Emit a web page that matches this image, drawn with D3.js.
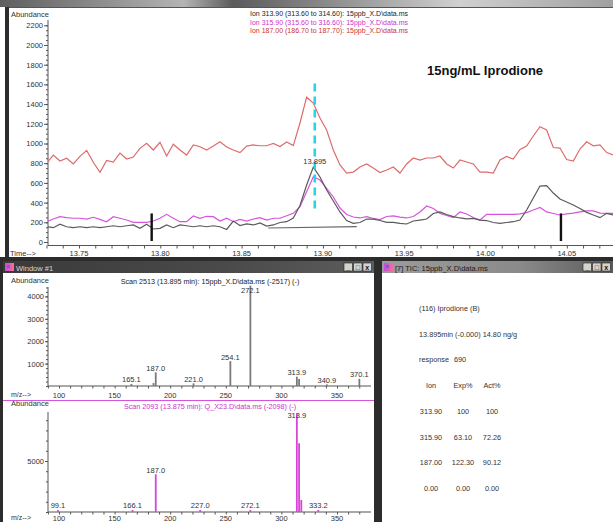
<!DOCTYPE html>
<html>
<head>
<meta charset="utf-8">
<script src="https://cdn.jsdelivr.net/npm/d3@7"></script>
<style>
  body { margin: 0; background: #fff; overflow: hidden; }
  svg { display: block; font-family: "Liberation Sans", Arial, sans-serif; }
</style>
</head>
<body>
<svg id="c" width="613" height="522"></svg>
<script>
// ---------- Extracted ion chromatogram (retention time, min) ----------
const scanTimes = [
  13.7301, 13.7342, 13.7383, 13.7424, 13.7465, 13.7506, 13.7547, 13.7588, 13.7629, 13.7670,
  13.7711, 13.7752, 13.7793, 13.7834, 13.7875, 13.7916, 13.7957, 13.7998, 13.8039, 13.8080,
  13.8121, 13.8162, 13.8203, 13.8244, 13.8285, 13.8326, 13.8367, 13.8408, 13.8449, 13.8490,
  13.8531, 13.8572, 13.8613, 13.8654, 13.8695, 13.8736, 13.8777, 13.8818, 13.8859, 13.8900,
  13.8941, 13.8982, 13.9023, 13.9064, 13.9105, 13.9146, 13.9187, 13.9228, 13.9269, 13.9310,
  13.9351, 13.9392, 13.9433, 13.9474, 13.9515, 13.9556, 13.9597, 13.9638, 13.9679, 13.9720,
  13.9761, 13.9802, 13.9843, 13.9884, 13.9925, 13.9966, 14.0007, 14.0048, 14.0089, 14.0130,
  14.0171, 14.0212, 14.0253, 14.0294, 14.0335, 14.0376, 14.0417, 14.0458, 14.0499, 14.0540,
  14.0581, 14.0622, 14.0663, 14.0704, 14.0745, 14.0786
];
// Ion 313.90 (black trace)
const ion313 = [
  155, 145, 180, 155, 145, 155, 145, 155, 145, 155,
  165, 155, 165, 173, 139, 180, 132, 139, 173, 145,
  173, 165, 155, 165, 155, 165, 155, 127, 213, 167,
  183, 173, 193, 162, 173, 198, 206, 244, 370, 579,
  760, 660, 528, 416, 305, 218, 190, 198, 233, 233,
  218, 200, 200, 190, 183, 213, 223, 233, 289, 305,
  279, 257, 244, 235, 239, 223, 218, 198, 190, 198,
  206, 223, 325, 447, 568, 573, 497, 436, 406, 376,
  340, 301, 274, 247, 291, 274
];
// Ion 315.90 (magenta trace)
const ion315 = [
  206, 233, 257, 247, 241, 241, 233, 251, 230, 206,
  257, 241, 223, 200, 200, 200, 213, 241, 281, 241,
  206, 206, 264, 241, 261, 257, 213, 241, 206, 230,
  213, 233, 247, 223, 241, 241, 267, 291, 358, 511,
  663, 629, 545, 457, 345, 279, 254, 244, 257, 239,
  228, 259, 265, 252, 244, 259, 305, 365, 340, 291,
  269, 247, 305, 284, 249, 223, 281, 281, 281, 281,
  281, 286, 299, 325, 350, 305, 289, 274, 286, 294,
  305, 315, 315, 294, 291, 291
];
// Ion 187.00 (red trace)
const ion187 = [
  799, 883, 822, 850, 792, 870, 930, 810, 707, 829,
  812, 903, 842, 862, 951, 1002, 934, 1012, 873, 992,
  934, 883, 985, 967, 934, 974, 1018, 964, 934, 908,
  974, 985, 977, 977, 1000, 969, 1015, 979, 1208, 1470,
  1411, 1259, 1137, 934, 782, 700, 710, 761, 792, 751,
  705, 731, 761, 700, 792, 853, 832, 853, 853, 873,
  792, 751, 832, 812, 792, 710, 710, 700, 832, 868,
  842, 939, 974, 1076, 1170, 1137, 959, 954, 837, 822,
  944, 1018, 977, 985, 908, 883
];
const ionLegend = [
  "Ion 313.90 (313.60 to 314.60): 15ppb_X.D\\data.ms",
  "Ion 315.90 (315.60 to 316.60): 15ppb_X.D\\data.ms",
  "Ion 187.00 (186.70 to 187.70): 15ppb_X.D\\data.ms"
];
const topYTicks = [0, 200, 400, 600, 800, 1000, 1200, 1400, 1600, 1800, 2000, 2200];
const topXTicks = [13.75, 13.80, 13.85, 13.90, 13.95, 14.00, 14.05];
const peakRT = 13.895;
const integrationBase = [[13.8664, 142], [13.9208, 157]];
const windowMarks = [13.7947, 14.0464];

// ---------- Mass spectra ----------
const spec1Mz = [165.1, 185.0, 187.0, 221.0, 254.1, 272.1, 313.9, 315.9, 340.9, 370.1];
const spec1Ab = [90, 130, 610, 120, 1110, 4480, 415, 310, 70, 320];
const spec1Labels = [165.1, 187.0, 221.0, 254.1, 272.1, 313.9, 340.9, 370.1];
const spec2Mz = [99.1, 166.1, 187.0, 227.0, 272.1, 313.9, 315.9, 317.9, 333.2];
const spec2Ab = [200, 200, 3700, 200, 200, 9650, 6750, 1180, 200];
const spec2Labels = [99.1, 166.1, 187.0, 227.0, 272.1, 313.9, 333.2];
const specXTicks = [100, 150, 200, 250, 300, 350];
const spec1YTicks = [1000, 2000, 3000, 4000];
const spec2YTicks = [5000];

// ---------- Quantitation report ----------
const compoundLine = "(116)  Iprodione (B)";
const rtLine = "13.895min (-0.000)  14.80 ng/g";
const responseValue = "690";
const tableHeader = ["Ion", "Exp%", "Act%"];
const tableIons = ["313.90", "315.90", "187.00", "0.00"];
const tableExp = ["100", "63.10", "122.30", "0.00"];
const tableAct = ["100", "72.26", "90.12", "0.00"];

const svg = d3.select("#c");
const defs = svg.append("defs");
function gradient(id, stops) {
  const g = defs.append("linearGradient").attr("id", id);
  stops.forEach(([o, c]) => g.append("stop").attr("offset", o).attr("stop-color", c));
}
gradient("topbar", [[0, "#5e5e5e"], [0.3, "#b4b4b4"], [0.38, "#5a5a5a"], [0.75, "#d0d0d0"], [1, "#a0a0a0"]]);
gradient("tb1", [[0, "#3a3a3a"], [0.6, "#4a4a4a"], [1, "#5c5c5c"]]);
gradient("tb2", [[0, "#9c9c9c"], [0.6, "#8a8a8a"], [1, "#5a5a5a"]]);
gradient("icon", [[0, "#c04fd0"], [1, "#ff6a9a"]]);

const DARK = "#2c2c2c";
const TXT = "#333";
const FS = 7.5;

// ---------- window frame ----------
svg.append("rect").attr("x", 0).attr("y", 0).attr("width", 613).attr("height", 7).attr("fill", "url(#topbar)");
svg.append("rect").attr("x", 5).attr("y", 7).attr("width", 4).attr("height", 252).attr("fill", DARK);
svg.append("rect").attr("x", 9).attr("y", 7).attr("width", 604).attr("height", 1).attr("fill", "#555");
svg.append("rect").attr("x", 0).attr("y", 257).attr("width", 613).attr("height", 4).attr("fill", DARK);
svg.append("rect").attr("x", 0).attr("y", 261).attr("width", 3).attr("height", 261).attr("fill", DARK);
svg.append("rect").attr("x", 374).attr("y", 261).attr("width", 8).attr("height", 261).attr("fill", DARK);

function titleBar(x, w, fill, label, color) {
  svg.append("rect").attr("x", x).attr("y", 261).attr("width", w).attr("height", 12).attr("fill", fill);
  svg.append("rect").attr("x", x + 2).attr("y", 263).attr("width", 9).attr("height", 8).attr("fill", "url(#icon)");
  svg.append("rect").attr("x", x + 4).attr("y", 265).attr("width", 3).attr("height", 3).attr("fill", "#6a5cff");
  svg.append("text").attr("x", x + 13).attr("y", 270.5).attr("font-size", 7.5).attr("fill", color).text(label);
  const bx = x + w - 30;
  ["_", "\u25A1", "x"].forEach((g, i) => {
    svg.append("rect").attr("x", bx + i * 9.5).attr("y", 263).attr("width", 8.5).attr("height", 8)
      .attr("fill", "#d6d3ce").attr("stroke", "#222").attr("stroke-width", 0.6);
    svg.append("text").attr("x", bx + i * 9.5 + 4.25).attr("y", 270).attr("text-anchor", "middle")
      .attr("font-size", 7).attr("font-weight", "bold").attr("fill", "#111").text(g);
  });
}
titleBar(3, 371, "url(#tb1)", "Window #1", "#d8d8d8");
titleBar(382, 231, "url(#tb2)", "[7] TIC: 15ppb_X.D\\data.ms", "#1a1a1a");

// ---------- chromatogram ----------
const xT = d3.scaleLinear().domain([13.75, 14.05]).range([79, 566.8]);
const yT = d3.scaleLinear().domain([0, 2200]).range([242, 25.3]);

svg.append("clipPath").attr("id", "plotClip").append("rect")
  .attr("x", 48).attr("y", 8).attr("width", 565).attr("height", 238);

svg.append("text").attr("x", 11).attr("y", 17).attr("font-size", FS).attr("fill", TXT).text("Abundance");

// y axis: major ticks with labels, minor ticks every 50
const gY = svg.append("g").attr("transform", "translate(48,0)");
gY.call(d3.axisLeft(yT).tickValues(d3.range(0, 2201, 50)).tickSize(2).tickFormat(""));
gY.call(g => g.select(".domain").remove());
const gY2 = svg.append("g").attr("transform", "translate(48,0)")
  .call(d3.axisLeft(yT).tickValues(topYTicks).tickSize(4).tickPadding(1).tickFormat(d3.format("d")));
gY2.select(".domain").remove();
svg.selectAll("g .tick line").attr("stroke", "#555");
gY2.selectAll("text").attr("font-size", FS).attr("fill", TXT).attr("font-family", "Liberation Sans, Arial");
svg.append("line").attr("x1", 48).attr("x2", 48).attr("y1", 20).attr("y2", 246).attr("stroke", "#555");

// x axis
svg.append("line").attr("x1", 48).attr("x2", 613).attr("y1", 245.5).attr("y2", 245.5).attr("stroke", "#555");
const gX = svg.append("g").attr("transform", "translate(0,245.5)")
  .call(d3.axisBottom(xT).tickValues(d3.range(13.73, 14.08, 0.01)).tickSize(3).tickFormat(""));
gX.select(".domain").remove();
gX.selectAll("line").attr("stroke", "#555");
svg.selectAll(null).data(topXTicks).enter().append("text")
  .attr("x", d => xT(d)).attr("y", 255.5).attr("text-anchor", "middle")
  .attr("font-size", FS).attr("fill", TXT).text(d => d.toFixed(2));
svg.append("text").attr("x", 10).attr("y", 255.5).attr("font-size", FS).attr("fill", TXT).text("Time-->");

// legend
const legendColors = ["#222", "#cc33cc", "#cc3333"];
ionLegend.forEach((t, i) => {
  svg.append("text").attr("x", 250).attr("y", 16 + i * 8.7).attr("font-size", 7)
    .attr("fill", legendColors[i]).text(t);
});

svg.append("text").attr("x", 427).attr("y", 75).attr("font-size", 13).attr("font-weight", "bold")
  .attr("fill", "#111").text("15ng/mL Iprodione");

const plot = svg.append("g").attr("clip-path", "url(#plotClip)");
const line = d3.line().x((d, i) => xT(scanTimes[i])).y(d => yT(d));
plot.append("path").datum(ion187).attr("d", line).attr("fill", "none").attr("stroke", "#de6b6b").attr("stroke-width", 1.2);
plot.append("path").datum(ion315).attr("d", line).attr("fill", "none").attr("stroke", "#d455dc").attr("stroke-width", 1.2);
plot.append("path").datum(ion313).attr("d", line).attr("fill", "none").attr("stroke", "#5a5a5a").attr("stroke-width", 1.2);

// integration baseline
plot.append("line")
  .attr("x1", xT(integrationBase[0][0])).attr("y1", yT(integrationBase[0][1]))
  .attr("x2", xT(integrationBase[1][0])).attr("y2", yT(integrationBase[1][1]))
  .attr("stroke", "#666").attr("stroke-width", 1.2);

// integration window markers
windowMarks.forEach(t => {
  plot.append("line").attr("x1", xT(t)).attr("x2", xT(t)).attr("y1", yT(290)).attr("y2", yT(10))
    .attr("stroke", "#111").attr("stroke-width", 2.4);
});

// retention-time marker
plot.append("line").attr("x1", xT(peakRT)).attr("x2", xT(peakRT)).attr("y1", yT(1610)).attr("y2", yT(300))
  .attr("stroke", "#2ad4e4").attr("stroke-width", 2.6).attr("stroke-dasharray", "8,5");
svg.append("text").attr("x", xT(peakRT)).attr("y", 163.5).attr("text-anchor", "middle")
  .attr("font-size", FS).attr("fill", TXT).text(peakRT.toFixed(3));

// ---------- spectra ----------
const xS = d3.scaleLinear().domain([100, 350]).range([59, 337]);

function spectrum(opts) {
  const { y0, yTop, yScale, yTicks, yMinor, mz, ab, labels, color, title, titleColor, titleY, labelFloor, xLabelY, abY } = opts;
  svg.append("text").attr("x", 11).attr("y", abY).attr("font-size", FS).attr("fill", TXT).text("Abundance");
  svg.append("text").attr("x", 210).attr("y", titleY).attr("text-anchor", "middle")
    .attr("font-size", 7.2).attr("fill", titleColor).text(title);
  // y axis
  svg.append("line").attr("x1", 48).attr("x2", 48).attr("y1", yTop).attr("y2", y0).attr("stroke", "#555");
  const gm = svg.append("g").attr("transform", "translate(48,0)")
    .call(d3.axisLeft(yScale).tickValues(yMinor).tickSize(2).tickFormat(""));
  gm.select(".domain").remove(); gm.selectAll("line").attr("stroke", "#555");
  const ga = svg.append("g").attr("transform", "translate(48,0)")
    .call(d3.axisLeft(yScale).tickValues(yTicks).tickSize(3).tickPadding(1).tickFormat(d3.format("d")));
  ga.select(".domain").remove(); ga.selectAll("line").attr("stroke", "#555");
  ga.selectAll("text").attr("font-size", FS).attr("fill", TXT).attr("font-family", "Liberation Sans, Arial");
  // x axis
  svg.append("line").attr("x1", 48).attr("x2", 371).attr("y1", y0).attr("y2", y0).attr("stroke", "#555");
  const gx = svg.append("g").attr("transform", `translate(0,${y0})`)
    .call(d3.axisBottom(xS).tickValues(d3.range(90, 371, 10)).tickSize(2.5).tickFormat(""));
  gx.select(".domain").remove(); gx.selectAll("line").attr("stroke", "#555");
  svg.selectAll(null).data(specXTicks).enter().append("text")
    .attr("x", d => xS(d)).attr("y", xLabelY).attr("text-anchor", "middle")
    .attr("font-size", FS).attr("fill", TXT).text(d => d);
  svg.append("text").attr("x", 11).attr("y", xLabelY - 1).attr("font-size", 7).attr("fill", TXT).text("m/z-->");
  // bars
  mz.forEach((m, i) => {
    svg.append("line").attr("x1", xS(m)).attr("x2", xS(m)).attr("y1", y0).attr("y2", yScale(ab[i]))
      .attr("stroke", color).attr("stroke-width", 1.8);
  });
  labels.forEach(m => {
    const i = mz.indexOf(m);
    const yy = Math.max(yScale(ab[i]) - 1.5, labelFloor);
    svg.append("text").attr("x", xS(m)).attr("y", yy).attr("text-anchor", "middle")
      .attr("font-size", FS).attr("fill", TXT).text(m.toFixed(1));
  });
}

const yS1 = d3.scaleLinear().domain([0, 4000]).range([386, 296.4]);
spectrum({
  y0: 386, yTop: 287, yScale: yS1, yTicks: spec1YTicks, yMinor: d3.range(0, 4401, 200),
  mz: spec1Mz, ab: spec1Ab, labels: spec1Labels, color: "#7a7a7a",
  title: "Scan 2513 (13.895 min): 15ppb_X.D\\data.ms (-2517) (-)", titleColor: "#222",
  titleY: 284, labelFloor: 292.5, xLabelY: 398, abY: 282.5
});

svg.append("line").attr("x1", 3).attr("x2", 374).attr("y1", 400.5).attr("y2", 400.5)
  .attr("stroke", "#d455dc").attr("stroke-width", 1);

const yS2 = d3.scaleLinear().domain([0, 5000]).range([512, 461]);
spectrum({
  y0: 512, yTop: 412, yScale: yS2, yTicks: spec2YTicks, yMinor: d3.range(0, 9801, 1000),
  mz: spec2Mz, ab: spec2Ab, labels: spec2Labels, color: "#d844d8",
  title: "Scan 2093 (13.875 min): Q_X23.D\\data.ms (-2098) (-)", titleColor: "#cc33cc",
  titleY: 408.5, labelFloor: 417.5, xLabelY: 521, abY: 406
});

// ---------- quantitation report ----------
const rep = svg.append("g").attr("font-size", 7.3).attr("fill", TXT);
rep.append("text").attr("x", 419).attr("y", 311).text(compoundLine);
rep.append("text").attr("x", 419).attr("y", 337).text(rtLine);
rep.append("text").attr("x", 419).attr("y", 362).text("response");
rep.append("text").attr("x", 454).attr("y", 362).text(responseValue);
const colX = [431, 463, 492];
tableHeader.forEach((h, j) => rep.append("text").attr("x", colX[j]).attr("y", 388).attr("text-anchor", "middle").text(h));
tableIons.forEach((ion, r) => {
  const yy = 414 + r * 25.7;
  [ion, tableExp[r], tableAct[r]].forEach((v, j) =>
    rep.append("text").attr("x", colX[j]).attr("y", yy).attr("text-anchor", "middle").text(v));
});
</script>
</body>
</html>
